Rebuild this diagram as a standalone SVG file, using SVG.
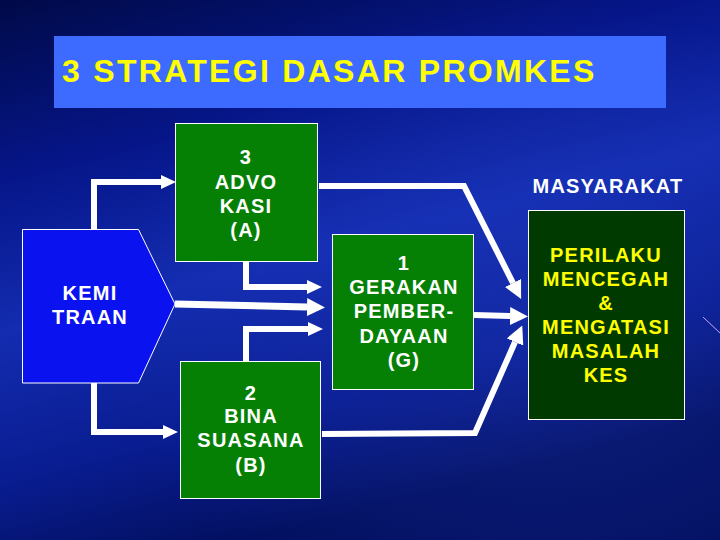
<svg xmlns="http://www.w3.org/2000/svg" width="720" height="540" viewBox="0 0 720 540">
  <defs>
    <linearGradient id="bg" x1="0" y1="0" x2="0.35" y2="1">
      <stop offset="0" stop-color="#000a48"/>
      <stop offset="0.3" stop-color="#06168a"/>
      <stop offset="0.55" stop-color="#132cb0"/>
      <stop offset="0.8" stop-color="#091c90"/>
      <stop offset="1" stop-color="#020f5e"/>
    </linearGradient>
    <radialGradient id="glow" cx="0.75" cy="0.6" r="0.6">
      <stop offset="0" stop-color="#2a48d0" stop-opacity="0.3"/>
      <stop offset="1" stop-color="#2a48d0" stop-opacity="0"/>
    </radialGradient>
    <marker id="ah" viewBox="0 0 15 14" refX="0" refY="7" markerWidth="15" markerHeight="14" markerUnits="userSpaceOnUse" orient="auto">
      <path d="M0,0 L15,7 L0,14 Z" fill="#ffffff"/>
    </marker>
    <marker id="ahL" viewBox="0 0 18 18" refX="0" refY="9" markerWidth="18" markerHeight="18" markerUnits="userSpaceOnUse" orient="auto">
      <path d="M0,0 L18,9 L0,18 Z" fill="#ffffff"/>
    </marker>
  </defs>
  <style>
    .conn { fill: none; stroke: #ffffff; stroke-width: 6; stroke-linejoin: miter; }
    .green { fill: #058005; stroke: #ffffff; stroke-width: 1; }
    .lbl { font-family: "Liberation Sans", Arial, sans-serif; font-weight: bold; font-size: 20px; letter-spacing: 1.2px; fill: #ffffff; text-anchor: middle; }
    .yl { font-family: "Liberation Sans", Arial, sans-serif; font-weight: bold; font-size: 20px; letter-spacing: 1.2px; fill: #ffff00; text-anchor: middle; }
  </style>

  <g id="background">
    <rect x="0" y="0" width="720" height="540" fill="url(#bg)"/>
    <rect x="0" y="0" width="720" height="540" fill="url(#glow)"/>
    <line x1="703" y1="317" x2="720" y2="333" stroke="#c8a8ff" stroke-width="1"/>
  </g>

  <g id="title">
    <rect x="54" y="36" width="612" height="72" fill="#3d6bff"/>
    <text x="62" y="82" font-family="'Liberation Sans', Arial, sans-serif" font-weight="bold" font-size="32" letter-spacing="2.3" fill="#ffff00">3 STRATEGI DASAR PROMKES</text>
  </g>

  <g id="connectors">
    <path class="conn" d="M94,229 L94,182 L161,182" marker-end="url(#ah)"/>
    <path class="conn" d="M94,383 L94,432 L163,432" marker-end="url(#ah)"/>
    <path class="conn" d="M246,262 L246,287 L307,287" marker-end="url(#ah)"/>
    <path class="conn" style="stroke-width:7" d="M175,304 L307,307" marker-end="url(#ahL)"/>
    <path class="conn" d="M246,361 L246,329 L308,329" marker-end="url(#ah)"/>
    <path class="conn" d="M319,186 L464,186 L513,283" marker-end="url(#ahL)"/>
    <path class="conn" d="M474,315 L510,316" marker-end="url(#ahL)"/>
    <path class="conn" d="M322,434 L475,433 L515,342" marker-end="url(#ahL)"/>
  </g>

  <g id="kemitraan">
    <polygon points="22.5,229.5 138.5,229.5 175,304 138.5,383 22.5,383" fill="#0a12f0" stroke="#ffffff" stroke-width="1"/>
    <text class="lbl" x="90" y="300">KEMI</text>
    <text class="lbl" x="90" y="324">TRAAN</text>
  </g>

  <g id="advokasi">
    <rect class="green" x="175.5" y="123.5" width="142" height="138"/>
    <text class="lbl" x="246" y="164">3</text>
    <text class="lbl" x="246" y="189">ADVO</text>
    <text class="lbl" x="246" y="213">KASI</text>
    <text class="lbl" x="246" y="237">(A)</text>
  </g>

  <g id="gerakan">
    <rect class="green" x="332.5" y="234.5" width="141" height="155"/>
    <text class="lbl" x="404" y="270">1</text>
    <text class="lbl" x="404" y="294">GERAKAN</text>
    <text class="lbl" x="404" y="318">PEMBER-</text>
    <text class="lbl" x="404" y="343">DAYAAN</text>
    <text class="lbl" x="404" y="367">(G)</text>
  </g>

  <g id="bina-suasana">
    <rect class="green" x="180.5" y="361.5" width="140" height="137"/>
    <text class="lbl" x="251" y="400">2</text>
    <text class="lbl" x="251" y="423">BINA</text>
    <text class="lbl" x="251" y="447">SUASANA</text>
    <text class="lbl" x="251" y="472">(B)</text>
  </g>

  <g id="masyarakat">
    <text class="lbl" x="608" y="193">MASYARAKAT</text>
    <rect x="528.5" y="210.5" width="156" height="209" fill="#013a01" stroke="#ffffff" stroke-width="1"/>
    <text class="yl" x="606" y="262">PERILAKU</text>
    <text class="yl" x="606" y="286">MENCEGAH</text>
    <text class="yl" x="606" y="310">&amp;</text>
    <text class="yl" x="606" y="334">MENGATASI</text>
    <text class="yl" x="606" y="358">MASALAH</text>
    <text class="yl" x="606" y="382">KES</text>
  </g>
</svg>
